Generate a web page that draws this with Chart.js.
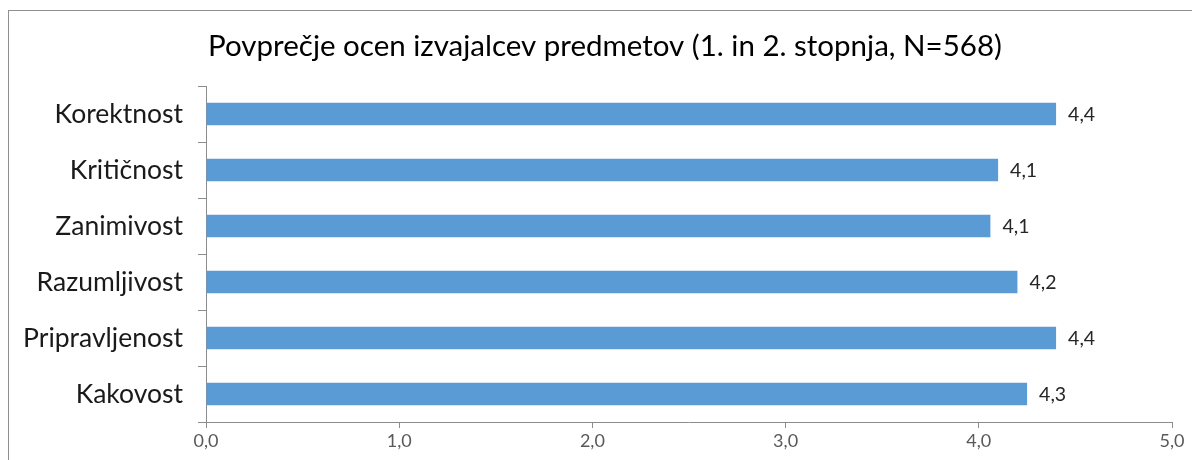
<!DOCTYPE html>
<html>
<head>
<meta charset="utf-8">
<script src="https://cdn.jsdelivr.net/npm/chart.js@4/dist/chart.umd.min.js"></script>
<style>
  html, body { margin: 0; padding: 0; background: #ffffff; overflow: hidden; }
  #wrap { position: relative; width: 1192px; height: 460px; }
  #frame { position: absolute; left: 8px; top: 10px; width: 1400px; height: 700px; border: 1px solid #8f8f8f; box-sizing: border-box; }
  #c { position: absolute; left: 0; top: 0; }
</style>
</head>
<body>
<div id="wrap">
  <div id="frame"></div>
  <canvas id="c" width="1192" height="460"></canvas>
</div>
<script>
const titleText = 'Povprečje ocen izvajalcev predmetov (1. in 2. stopnja, N=568)';
const categories = ['Korektnost', 'Kritičnost', 'Zanimivost', 'Razumljivost', 'Pripravljenost', 'Kakovost'];
const values = [4.40, 4.10, 4.06, 4.20, 4.40, 4.25];
const xTicks = [0, 1, 2, 3, 4, 5];

const fmt = v => (Math.round(v * 10) / 10).toFixed(1).replace('.', ',');

const barLabels = {
  id: 'barLabels',
  afterLayout(chart) {
    if (chart.titleBlock) {
      chart.titleBlock.left += 19;
      chart.titleBlock.right += 19;
    }
  },
  afterDatasetsDraw(chart) {
    const ctx = chart.ctx;
    const meta = chart.getDatasetMeta(0);
    ctx.save();
    ctx.font = '19.5px Lato';
    ctx.fillStyle = '#262626';
    ctx.textAlign = 'left';
    ctx.textBaseline = 'middle';
    meta.data.forEach((bar, i) => {
      ctx.fillText(fmt(values[i]), bar.x + 12, bar.y + 1);
    });
    ctx.restore();
  }
};

new Chart(document.getElementById('c'), {
  type: 'bar',
  data: {
    labels: categories,
    datasets: [{
      data: values,
      backgroundColor: '#5B9BD5',
      borderWidth: 0,
      barPercentage: 0.4,
      categoryPercentage: 1.0
    }]
  },
  options: {
    indexAxis: 'y',
    responsive: false,
    animation: false,
    devicePixelRatio: 1,
    layout: { padding: { left: 0, right: 20, top: 0, bottom: 0 } },
    plugins: {
      legend: { display: false },
      tooltip: { enabled: false },
      title: {
        display: true,
        text: titleText,
        color: '#000000',
        font: { family: 'Lato', size: 29.5, weight: 'normal', lineHeight: 1.2 },
        padding: { top: 29, bottom: 21.6 }
      }
    },
    scales: {
      x: {
        min: 0,
        max: 5,
        afterBuildTicks(scale) { scale.ticks = xTicks.map(v => ({ value: v })); },
        afterFit(scale) { scale.height = 38; },
        ticks: {
          callback: v => fmt(v),
          color: '#595959',
          font: { family: 'Lato', size: 18 },
          padding: 2,
          maxRotation: 0
        },
        grid: { display: true, drawOnChartArea: false, drawTicks: true, tickLength: 6, color: '#8c8c8c' },
        border: { display: true, color: '#8c8c8c' }
      },
      y: {
        afterFit(scale) { scale.width = 206; },
        ticks: {
          color: '#1a1a1a',
          font: { family: 'Lato', size: 26.5 },
          padding: 15
        },
        grid: { display: true, offset: true, drawOnChartArea: false, drawTicks: true, tickLength: 8, color: '#8c8c8c' },
        border: { display: true, color: '#8c8c8c' }
      }
    }
  },
  plugins: [barLabels]
});
</script>
</body>
</html>
